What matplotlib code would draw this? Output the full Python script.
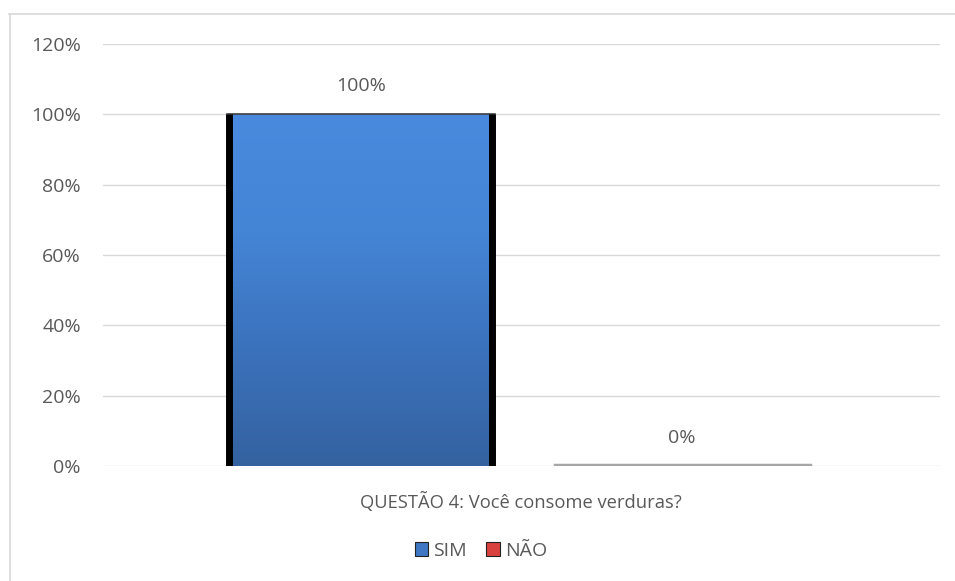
import numpy as np
import matplotlib.pyplot as plt
from matplotlib.patches import Rectangle
from matplotlib.lines import Line2D
from matplotlib.colors import LinearSegmentedColormap

# dados
categorias = ['SIM', 'NÃO']
valores = [100, 0]
titulo_x = 'QUESTÃO 4: Você consome verduras?'
yticks = [0, 20, 40, 60, 80, 100, 120]

plt.rcParams['font.family'] = ['Open Sans', 'DejaVu Sans']
cor_texto = '#595959'

fig = plt.figure(figsize=(9.55, 5.81), dpi=100, facecolor='white')
ax = fig.add_axes([103 / 955, 115 / 581, 837 / 955, 422 / 581])

# borda do gráfico (topo e esquerda)
fig.add_artist(Line2D([9 / 955, 1.0], [1 - 13.5 / 581] * 2, color='#d9d9d9', lw=1.2))
fig.add_artist(Line2D([9.5 / 955] * 2, [0, 1 - 13.5 / 581], color='#d9d9d9', lw=1.2))

pos = [-0.384, 0.384]
largura = 0.64
cores = ['#3f77c4', '#c9403c']
bars = ax.bar(pos, valores, width=largura, color=cores, zorder=2)

# gradiente azul na barra SIM
grad = LinearSegmentedColormap.from_list('g', ['#3462a0', '#3b72bc', '#4585d6', '#4a8ade'])
b = bars[0]
x0, w, h = b.get_x(), b.get_width(), b.get_height()
img = ax.imshow(np.linspace(0, 1, 256).reshape(-1, 1), cmap=grad, origin='lower',
                extent=[x0, x0 + w, 0, h], aspect='auto', zorder=3)
img.set_clip_path(b)
ax.plot([x0, x0 + w], [h, h], color='#404040', lw=1.2, zorder=4)
ax.vlines([x0 + 0.006, x0 + w - 0.006], 0, h, color='black', lw=5, zorder=4)

# barra NÃO com valor zero: linha cinza
b2 = bars[1]
ax.plot([b2.get_x() + 0.015, b2.get_x() + b2.get_width() - 0.015], [0.4, 0.4],
        color='#a6a6a6', lw=2.5, zorder=4)

for p, v in zip(pos, valores):
    ax.text(p, v + 5.5, f'{v}%', ha='center', va='bottom', fontsize=14, color=cor_texto)

ax.set_xlim(-1, 1)
ax.set_ylim(0, 120)
ax.set_yticks(yticks)
ax.set_yticklabels([f'{t}%' for t in yticks], fontsize=14, color=cor_texto)
ax.set_xticks([])
ax.tick_params(axis='y', length=0, pad=16)
ax.grid(axis='y', color='#d9d9d9', lw=1, zorder=0)
ax.set_axisbelow(True)
for s in ax.spines.values():
    s.set_visible(False)

fig.text(521 / 955, 1 - 502 / 581, titulo_x, ha='center', va='center', fontsize=13.2, color=cor_texto)

handles = [Rectangle((0, 0), 1, 1, facecolor=c, edgecolor='#222222', lw=0.8) for c in ['#3f77c4', '#d9413f']]
fig.legend(handles, categorias, loc='center', bbox_to_anchor=(481 / 955, 1 - 551 / 581), ncol=2,
           frameon=False, fontsize=14, labelcolor=cor_texto, handlelength=0.7, handleheight=0.7,
           handletextpad=0.25, columnspacing=1.0)

fig.savefig('out.png', dpi=100)
